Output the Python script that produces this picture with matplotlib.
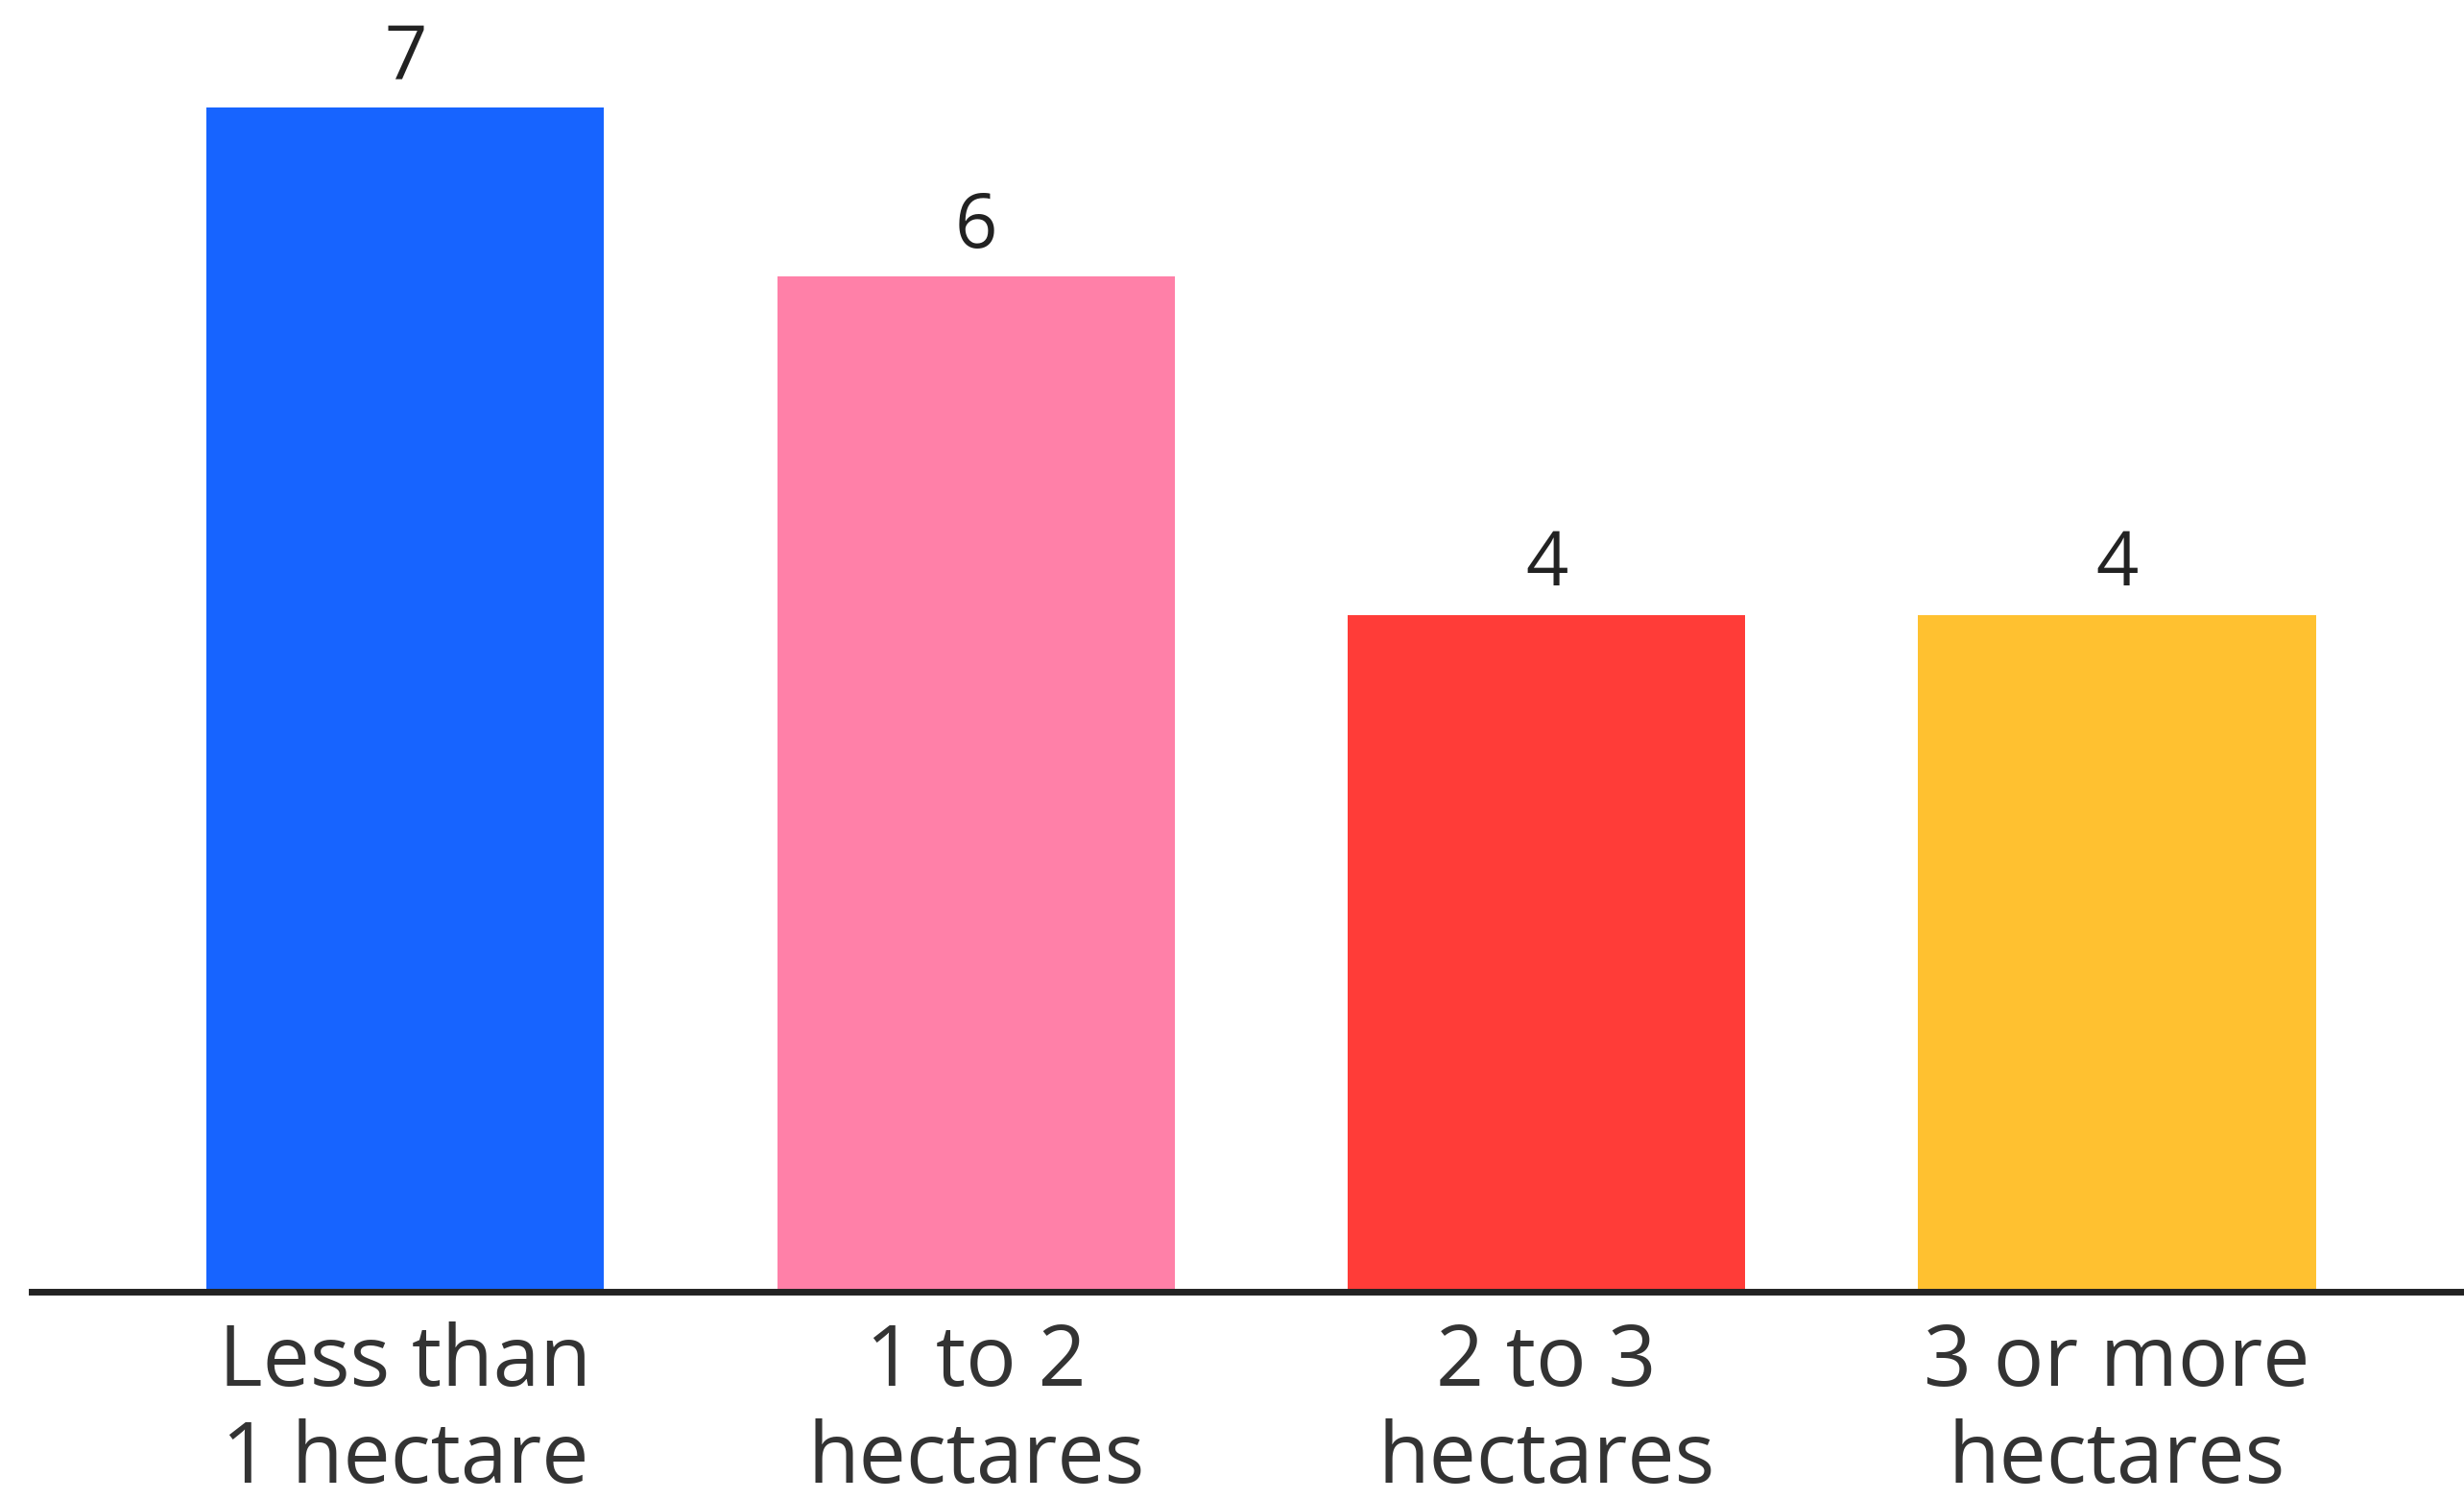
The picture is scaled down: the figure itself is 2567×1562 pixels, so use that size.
import matplotlib
matplotlib.use("Agg")
import matplotlib.pyplot as plt

# ── Data ──
categories = ["Less than\n1 hectare", "1 to 2\nhectares", "2 to 3\nhectares", "3 or more\nhectares"]
values = [7, 6, 4, 4]
bar_colors = ["#1764FF", "#FF80A8", "#FF3C38", "#FFC130"]

plt.rcParams['font.family'] = ['Open Sans', 'DejaVu Sans']

fig = plt.figure(figsize=(25.67, 15.62), dpi=100)
left = 33 / 2567
ax = fig.add_axes([left, 216 / 1562, 1 - left, 0.8465])

x = list(range(len(values)))
ax.bar(x, values, width=0.697, color=bar_colors, zorder=2)

# value labels above bars
for xi, v in zip(x, values):
    ax.annotate(str(v), (xi, v), xytext=(0, 22), textcoords="offset points",
                ha="center", va="baseline", fontsize=56, color="#222222")

ax.set_xlim(-0.655, 3.608)
ax.set_ylim(0, 7.5)
ax.set_xticks(x)
ax.set_xticklabels(categories, fontsize=63, color="#333333", linespacing=1.2)
ax.tick_params(axis="x", length=0, pad=22)
ax.set_yticks([])

for s in ["top", "right", "left"]:
    ax.spines[s].set_visible(False)
ax.spines["bottom"].set_linewidth(5)
ax.spines["bottom"].set_color("#222222")
ax.spines["bottom"].set_zorder(3)

fig.savefig("out.png", dpi=100)
plt.close(fig)
